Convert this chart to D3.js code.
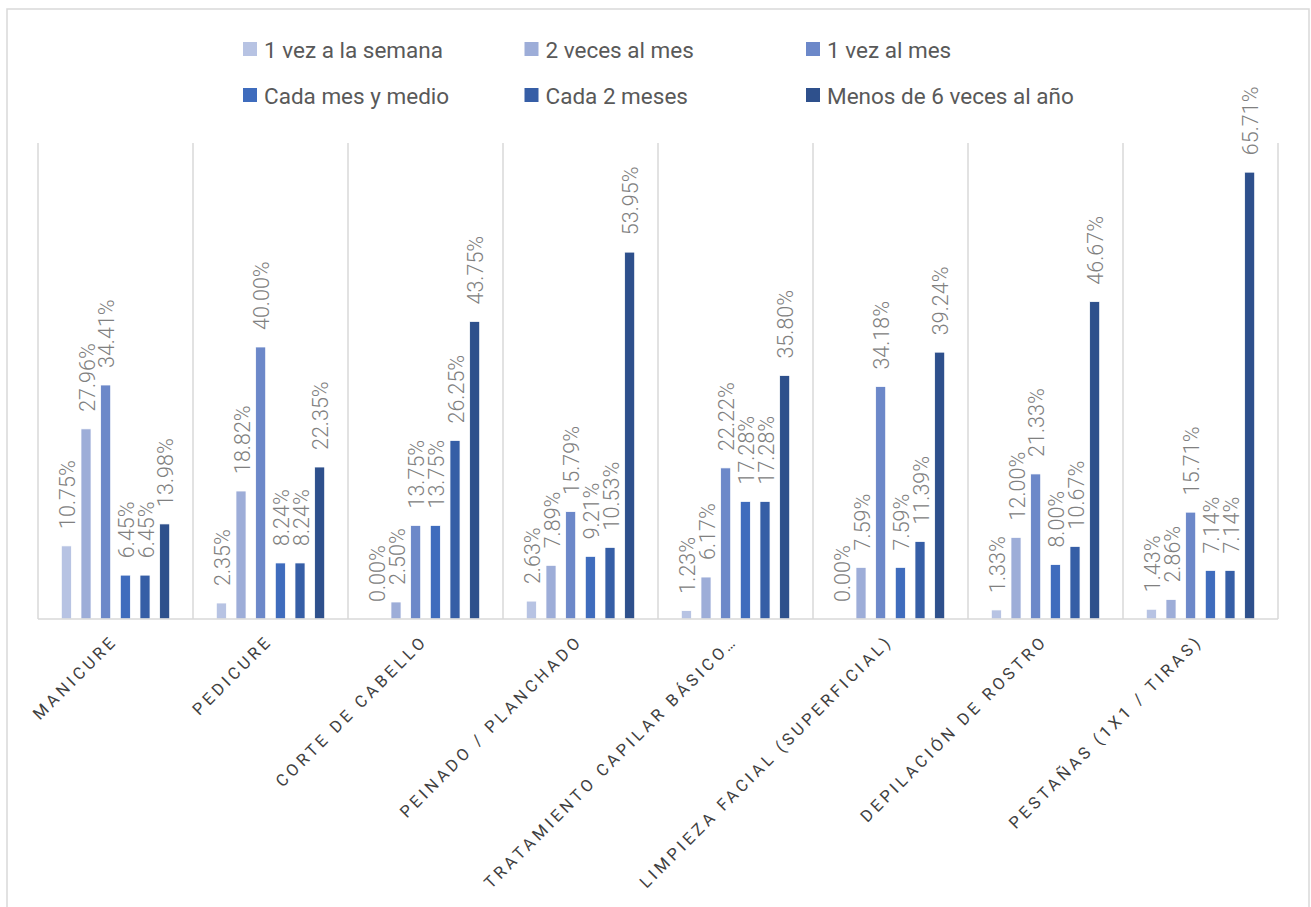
<!DOCTYPE html>
<html>
<head>
<meta charset="utf-8">
<script src="https://cdn.jsdelivr.net/npm/d3@7"></script>
<style>
  html, body { margin: 0; padding: 0; background: #fff; }
  svg { display: block; font-family: Roboto, "Open Sans", sans-serif; }
</style>
</head>
<body>
<div id="chart"></div>
<script>
const categories = [
  "MANICURE", "PEDICURE", "CORTE DE CABELLO", "PEINADO / PLANCHADO",
  "TRATAMIENTO CAPILAR BÁSICO…", "LIMPIEZA FACIAL (SUPERFICIAL)",
  "DEPILACIÓN DE ROSTRO", "PESTAÑAS (1X1 / TIRAS)"
];
const seriesNames = [
  "1 vez a la semana", "2 veces al mes", "1 vez al mes",
  "Cada mes y medio", "Cada 2 meses", "Menos de 6 veces al año"
];
const unaVezSemana = [10.75, 2.35, 0.00, 2.63, 1.23, 0.00, 1.33, 1.43];
const dosVecesMes = [27.96, 18.82, 2.50, 7.89, 6.17, 7.59, 12.00, 2.86];
const unaVezMes = [34.41, 40.00, 13.75, 15.79, 22.22, 34.18, 21.33, 15.71];
const mesYMedio = [6.45, 8.24, 13.75, 9.21, 17.28, 7.59, 8.00, 7.14];
const dosMeses = [6.45, 8.24, 26.25, 10.53, 17.28, 11.39, 10.67, 7.14];
const menosSeis = [13.98, 22.35, 43.75, 53.95, 35.80, 39.24, 46.67, 65.71];
const seriesValues = [unaVezSemana, dosVecesMes, unaVezMes, mesYMedio, dosMeses, menosSeis];

const colors = ["#b7c3e3", "#9dadd8", "#6c88c9", "#3f6cbd", "#365ea6", "#2e508c"];

const W = 1311, H = 907;
const plot = { left: 38, right: 1278, top: 143, bottom: 619 };

const svg = d3.select("#chart").append("svg")
  .attr("width", W)
  .attr("height", H);

// chart border
svg.append("rect")
  .attr("x", 7).attr("y", 9)
  .attr("width", 1302).attr("height", 910)
  .attr("fill", "#fff")
  .attr("stroke", "#d9d9d9")
  .attr("stroke-width", 1.5);

const x0 = d3.scaleBand()
  .domain(categories)
  .range([plot.left, plot.right])
  .padding(0);

const groupWidth = 118;
const x1 = d3.scaleBand()
  .domain(d3.range(seriesNames.length))
  .range([0, groupWidth])
  .paddingInner(0.49)
  .paddingOuter(0.245);

const y = d3.scaleLinear()
  .domain([0, 70])
  .range([plot.bottom, plot.top]);

// vertical category dividers
svg.append("g")
  .selectAll("line")
  .data(categories.concat(["end"]))
  .join("line")
  .attr("x1", (d, i) => plot.left + i * x0.step())
  .attr("x2", (d, i) => plot.left + i * x0.step())
  .attr("y1", plot.top)
  .attr("y2", plot.bottom)
  .attr("stroke", "#d9d9d9")
  .attr("stroke-width", 1.5);

// bars
const groups = svg.append("g")
  .selectAll("g")
  .data(categories)
  .join("g")
  .attr("transform", c => `translate(${x0(c) + (x0.bandwidth() - groupWidth) / 2},0)`);

groups.selectAll("rect")
  .data((c, ci) => seriesValues.map((vals, si) => ({ si, v: vals[ci] })))
  .join("rect")
  .attr("x", d => x1(d.si))
  .attr("width", x1.bandwidth())
  .attr("y", d => y(d.v))
  .attr("height", d => y(0) - y(d.v))
  .attr("fill", d => colors[d.si])
  .attr("stroke", "#fff")
  .attr("stroke-width", 0.75);

// value labels
groups.selectAll("text")
  .data((c, ci) => seriesValues.map((vals, si) => ({ si, v: vals[ci] })))
  .join("text")
  .attr("transform", d => `translate(${x1(d.si) + x1.bandwidth() / 2 + 1},${y(d.v) - 17}) rotate(-90)`)
  .attr("text-anchor", "start")
  .attr("dominant-baseline", "central")
  .attr("fill", "#808080")
  .style("font-size", "21.5px")
  .style("font-weight", 300)
  .text(d => d.v.toFixed(2) + "%");

// x axis line
svg.append("line")
  .attr("x1", plot.left).attr("x2", plot.right)
  .attr("y1", plot.bottom).attr("y2", plot.bottom)
  .attr("stroke", "#d9d9d9")
  .attr("stroke-width", 1.5);

// category labels
svg.append("g")
  .selectAll("text")
  .data(categories)
  .join("text")
  .attr("transform", c => `translate(${x0(c) + x0.bandwidth() / 2 + 3},${plot.bottom + 23}) rotate(-45)`)
  .attr("text-anchor", "end")
  .attr("fill", "#404040")
  .style("font-size", "16.5px")
  .style("letter-spacing", "3.6px")
  .text(c => c);

// legend
const legendCols = [243, 524.5, 806];
const legendRows = [49, 95];
const legend = svg.append("g")
  .selectAll("g")
  .data(seriesNames)
  .join("g")
  .attr("transform", (d, i) => `translate(${legendCols[i % 3]},${legendRows[Math.floor(i / 3)]})`);

legend.append("rect")
  .attr("x", 0).attr("y", -7)
  .attr("width", 14).attr("height", 14)
  .attr("fill", (d, i) => colors[i]);

legend.append("text")
  .attr("x", 21)
  .attr("y", 1)
  .attr("dominant-baseline", "central")
  .attr("fill", "#595959")
  .style("font-size", "22.5px")
  .text(d => d);
</script>
</body>
</html>
